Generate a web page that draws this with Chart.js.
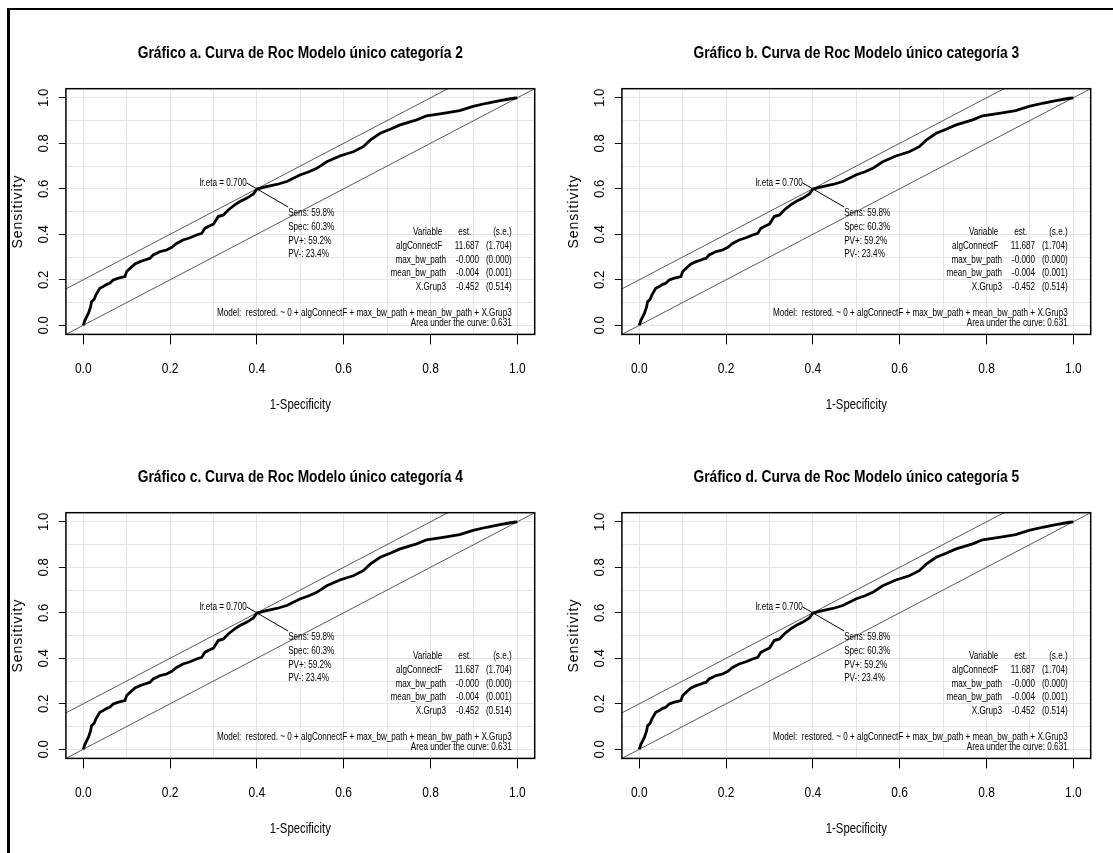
<!DOCTYPE html>
<html>
<head>
<meta charset="utf-8">
<script src="https://cdn.jsdelivr.net/npm/chart.js@4.4.1/dist/chart.umd.min.js"></script>
<style>
  html, body { margin: 0; padding: 0; background: #fff; overflow: hidden; }
  body { width: 1113px; height: 853px; position: relative; }
  #frame { position: absolute; left: 7px; top: 8px; width: 1120px; height: 860px; border-left: 3px solid #000; border-top: 2px solid #000; }
  canvas { position: absolute; }
</style>
</head>
<body>
<div id="frame"></div>
<canvas id="rocA" width="556" height="424" style="left:0px;top:0px"></canvas>
<canvas id="rocB" width="556" height="424" style="left:556px;top:0px"></canvas>
<canvas id="rocC" width="556" height="424" style="left:0px;top:424px"></canvas>
<canvas id="rocD" width="556" height="424" style="left:556px;top:424px"></canvas>
<script>
// Títulos de los cuatro paneles
const panelTitles = [
	"Gráfico a. Curva de Roc Modelo único categoría 2",
	"Gráfico b. Curva de Roc Modelo único categoría 3",
	"Gráfico c. Curva de Roc Modelo único categoría 4",
	"Gráfico d. Curva de Roc Modelo único categoría 5",
];
const panelIds = ["rocA", "rocB", "rocC", "rocD"];

// Curva ROC (1-especificidad, sensibilidad)
const fpr = [
	0, 0.004, 0.012, 0.017, 0.019, 0.025, 0.029, 0.038, 0.046, 0.054, 0.061, 0.069,
	0.081, 0.096, 0.1, 0.108, 0.119, 0.131, 0.142, 0.154, 0.161, 0.177, 0.192, 0.204,
	0.215, 0.23, 0.246, 0.261, 0.273, 0.28, 0.288, 0.3, 0.311, 0.323, 0.334, 0.349,
	0.361, 0.376, 0.392, 0.4, 0.422, 0.446, 0.469, 0.499, 0.52, 0.538, 0.561, 0.591,
	0.622, 0.645, 0.661, 0.684, 0.707, 0.73, 0.768, 0.791, 0.829, 0.867, 0.898, 0.929,
	0.96, 0.991, 1,
];
const sens = [
	0, 0.023, 0.053, 0.082, 0.104, 0.114, 0.133, 0.163, 0.17, 0.18, 0.185, 0.199,
	0.207, 0.214, 0.236, 0.251, 0.27, 0.28, 0.287, 0.295, 0.309, 0.324, 0.331, 0.343,
	0.36, 0.375, 0.385, 0.397, 0.404, 0.426, 0.434, 0.445, 0.478, 0.485, 0.507, 0.529,
	0.544, 0.558, 0.577, 0.599, 0.61, 0.619, 0.632, 0.661, 0.675, 0.69, 0.719, 0.744,
	0.763, 0.785, 0.814, 0.844, 0.862, 0.881, 0.903, 0.921, 0.932, 0.944, 0.962, 0.976,
	0.988, 0.998, 1,
];

// Punto óptimo y línea guía hacia el texto
const optPoint = [0.4, 0.6];
const leaderX = [0.376, 0.472];
const leaderY = [0.626, 0.52];

// Ejes
const axisLimits = [-0.04, 1.04];
const gridSteps = [0, 0.1, 0.2, 0.3, 0.4, 0.5, 0.6, 0.7, 0.8, 0.9, 1];
const tickValues = [0, 0.2, 0.4, 0.6, 0.8, 1];
const tickLabels = ["0.0", "0.2", "0.4", "0.6", "0.8", "1.0"];

// Textos del modelo
const optLabel = "lr.eta = 0.700";
const optStats = ["Sens: 59.8%", "Spec: 60.3%", "PV+: 59.2%", "PV-: 23.4%"];
const coefHeader = ["Variable", "est.", "(s.e.)"];
const coefNames = ["algConnectF", "max_bw_path", "mean_bw_path", "X.Grup3"];
const coefEst = ["11.687", "-0.000", "-0.004", "-0.452"];
const coefSe = ["(1.704)", "(0.000)", "(0.001)", "(0.514)"];
const modelText = "Model:  restored. ~ 0 + algConnectF + max_bw_path + mean_bw_path + X.Grup3";
const aucText = "Area under the curve: 0.631";

const FONT = '"Liberation Sans", Arial, sans-serif';

function labelFor(v) {
	const i = tickValues.findIndex((t) => Math.abs(t - v) < 1e-9);
	return i >= 0 ? tickLabels[i] : "";
}

// texto estrechado horizontalmente (la figura original está comprimida)
function narrowText(ctx, text, x, y, sx, align, rot) {
	ctx.save();
	ctx.translate(x, y);
	if (rot) ctx.rotate(rot);
	ctx.scale(sx, 1);
	ctx.textAlign = align;
	ctx.fillText(text, 0, 0);
	ctx.restore();
}

const rocText = {
	id: "rocText",
	afterDraw(chart) {
		const { ctx, chartArea: a, scales } = chart;
		const px = (v) => scales.x.getPixelForValue(v);
		const py = (v) => scales.y.getPixelForValue(v);
		const k = chart.$panel;
		ctx.save();
		ctx.strokeStyle = "#000";
		ctx.lineWidth = 1.5;
		ctx.strokeRect(a.left, a.top, a.right - a.left, a.bottom - a.top);

		ctx.fillStyle = "#000";
		ctx.textBaseline = "middle";

		// título
		ctx.font = "bold 16px " + FONT;
		narrowText(ctx, panelTitles[k], (a.left + a.right) / 2, a.top - 35.5, 0.86, "center");

		// etiquetas de los ejes
		ctx.font = "15px " + FONT;
		tickValues.forEach((v, i) => {
			narrowText(ctx, tickLabels[i], px(v), a.bottom + 34, 0.8, "center");
			narrowText(ctx, tickLabels[i], 44, py(v), 0.88, "center", -Math.PI / 2);
		});
		ctx.font = "14px " + FONT;
		narrowText(ctx, "1-Specificity", (a.left + a.right) / 2, a.bottom + 71, 0.81, "center");

		ctx.save();
		ctx.translate(18, (a.top + a.bottom) / 2);
		ctx.rotate(-Math.PI / 2);
		ctx.letterSpacing = "1px";
		ctx.textAlign = "center";
		ctx.fillText("Sensitivity", 0, 0);
		ctx.restore();

		// anotaciones del modelo
		ctx.font = "11px " + FONT;
		const s = 0.74;
		narrowText(ctx, optLabel, px(0.3765), py(0.624), s, "right");
		const statY = [0.495, 0.431, 0.371, 0.312];
		optStats.forEach((t, i) => narrowText(ctx, t, px(0.472), py(statY[i]), s, "left"));

		narrowText(ctx, coefHeader[0], px(0.827), py(0.411), s, "right");
		narrowText(ctx, coefHeader[1], px(0.894), py(0.411), s, "right");
		narrowText(ctx, coefHeader[2], px(0.987), py(0.411), s, "right");
		const rowY = [0.35, 0.287, 0.229, 0.17];
		coefNames.forEach((n, i) => {
			narrowText(ctx, n, px(i === 0 ? 0.827 : 0.836), py(rowY[i]), s, "right");
			narrowText(ctx, coefEst[i], px(0.912), py(rowY[i]), s, "right");
			narrowText(ctx, coefSe[i], px(0.987), py(rowY[i]), s, "right");
		});
		narrowText(ctx, modelText, px(0.987), py(0.055), s, "right");
		narrowText(ctx, aucText, px(0.987), py(0.009), s, "right");
		ctx.restore();
	},
};

function axisOptions(isX) {
	return {
		type: "linear",
		min: axisLimits[0],
		max: axisLimits[1],
		afterBuildTicks: (axis) => {
			axis.ticks = gridSteps.map((v) => ({ value: v }));
		},
		afterFit: (axis) => {
			if (isX) axis.height = 89.6;
			else axis.width = 65.9;
		},
		border: { display: false },
		grid: {
			color: "#e4e4e4",
			lineWidth: 1,
			drawTicks: true,
			tickLength: isX ? 10 : 7,
			tickWidth: 1,
			tickColor: (c) => (c.tick && labelFor(c.tick.value) ? "#000" : "rgba(0,0,0,0)"),
		},
		ticks: { display: false, autoSkip: false, callback: (v) => labelFor(v) },
		title: { display: false },
	};
}

const rocPoints = fpr.map((v, i) => ({ x: v, y: sens[i] }));
const diagPoints = axisLimits.map((v) => ({ x: v, y: v }));
const tangentPoints = axisLimits.map((v) => ({ x: v, y: v + optPoint[1] - optPoint[0] }));
const leaderPoints = leaderX.map((v, i) => ({ x: v, y: leaderY[i] }));

panelIds.forEach((id, k) => {
	const chart = new Chart(document.getElementById(id), {
		type: "scatter",
		data: {
			datasets: [
				{ data: rocPoints, showLine: true, borderColor: "#000", borderWidth: 2.8, pointRadius: 0 },
				{ data: leaderPoints, showLine: true, borderColor: "#000", borderWidth: 1, pointRadius: 0 },
				{ data: tangentPoints, showLine: true, borderColor: "#5a5a5a", borderWidth: 1, pointRadius: 0 },
				{ data: diagPoints, showLine: true, borderColor: "#5a5a5a", borderWidth: 1, pointRadius: 0 },
			],
		},
		options: {
			responsive: false,
			animation: false,
			devicePixelRatio: 1,
			layout: { padding: { left: 0, right: 21.3, top: 88.7, bottom: 0 } },
			plugins: {
				legend: { display: false },
				tooltip: { enabled: false },
			},
			scales: { x: axisOptions(true), y: axisOptions(false) },
		},
		plugins: [{ id: "panelIndex", beforeInit: (c) => { c.$panel = k; } }, rocText],
	});
});
</script>
</body>
</html>
